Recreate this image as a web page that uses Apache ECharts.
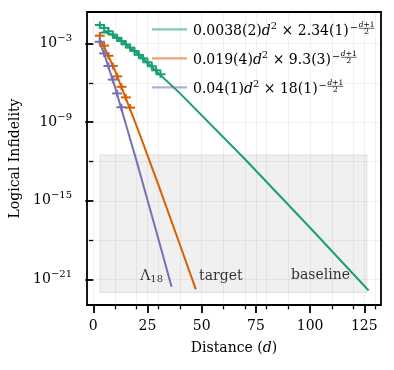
<!DOCTYPE html>
<html>
<head>
<meta charset="utf-8">
<script src="https://cdn.jsdelivr.net/npm/echarts@6/dist/echarts.min.js"></script>
<style>
  html, body { margin: 0; padding: 0; background: #fff; }
  #chart { width: 394px; height: 370px; }
</style>
</head>
<body>
<div id="chart"></div>
<script>
// measured points (distance d, logical infidelity)
const baselineD = [3, 5, 7, 9, 11, 13, 15, 17, 19, 21, 23, 25, 27, 29, 31];
const baselineVal = [2.7e-2, 1.6e-2, 8.9e-3, 5.0e-3, 2.8e-3, 1.6e-3, 8.9e-4, 5.0e-4, 2.8e-4, 1.4e-4, 7.6e-5, 3.8e-5, 1.9e-5, 9.3e-6, 4.6e-6];
const targetD = [3, 5, 7, 9, 11, 13, 15, 17];
const targetVal = [4.1e-3, 7.1e-4, 1.2e-4, 2.0e-5, 3.2e-6, 5.1e-7, 7.9e-8, 1.3e-8];
const lambdaD = [3, 5, 7, 9, 11, 13];
const lambdaVal = [1.4e-3, 1.8e-4, 2.0e-5, 1.8e-6, 1.6e-7, 1.4e-8];

// fitted curves
const baselineFitD = [3, 4, 5, 6, 8, 12, 20, 40, 70, 100, 127];
const baselineFitVal = [6.3e-3, 7.3e-3, 7.4e-3, 7.0e-3, 5.3e-3, 2.2e-3, 2.0e-4, 1.6e-7, 1.5e-12, 8.6e-18, 1.4e-22];
const targetFitD = [3, 5, 10, 20, 30, 40, 47.3];
const targetFitVal = [2.0e-3, 5.9e-4, 9.0e-6, 5.1e-10, 1.7e-14, 4.2e-19, 1.7e-22];
const lambdaFitD = [3, 5, 10, 20, 30, 36.1];
const lambdaFitVal = [1.1e-3, 1.7e-4, 5.0e-7, 1.05e-12, 1.25e-18, 2.7e-22];

// legend text pieces
const legendCoef = ['0.0038(2)', '0.019(4)', '0.04(1)'];
const legendBase = ['2.34(1)', '9.3(3)', '18(1)'];

// shaded band
const bandD = [3.1, 126.2];
const bandVal = [3.2e-12, 1.0e-22];

// text labels in the band
const noteText = ['{a|Λ}{b|18}', '{a|target}', '{a|baseline}'];
const noteD = [26.9, 58.8, 104.8];
const noteVal = [1.6e-21, 1.7e-21, 2.0e-21];

// ticks (exponents for y)
const yMajor = [-21, -15, -9, -3];
const yMinor = [-18, -12, -6];
const xMajor = [0, 25, 50, 75, 100, 125];
const xMinor = [10, 20, 30, 40, 60, 70, 80, 90, 110, 120, 130];

const FONT = '"DejaVu Serif", serif';
const FS = 14;
const SUP = 10;
const INK = '#000';
const GREEN = '#1b9e77', ORANGE = '#d95f02', PURPLE = '#7570b3';
const GRIDC = 'rgba(0,0,0,0.07)';

const pts = (d, v) => d.map((x, i) => [x, Math.log10(v[i])]);

const ctx = document.createElement('canvas').getContext('2d');
function tw(t, size, italic) {
  ctx.font = (italic ? 'italic ' : '') + size + 'px ' + FONT;
  return ctx.measureText(t).width;
}

function txt(x, y, t, size, italic) {
  return {
    type: 'text', x: x, y: y, z: 50,
    style: { text: t, fontSize: size, fontFamily: FONT, fontStyle: italic ? 'italic' : 'normal',
      fill: INK, align: 'left', verticalAlign: 'middle' }
  };
}

function legendRow(y, color, coef, base) {
  const els = [{ type: 'line', z: 50, shape: { x1: 152, y1: y, x2: 187, y2: y },
    style: { stroke: color, lineWidth: 2.2, opacity: 0.55 } }];
  let x = 193;
  const yc = y + 2.3;
  const put = (t, size, italic, dy) => { els.push(txt(x, yc + dy, t, size, italic)); x += tw(t, size, italic); };
  put(coef, FS, false, 0);
  put('d', FS, true, 0);
  put('2', SUP, false, -5);
  put(' × ' + base, FS, false, 0);
  x += 1;
  put('−', SUP, false, -3.5);
  x += 0.5;
  // stacked fraction (d+1)/2
  const fs = 7.5;
  const wd = tw('d', fs, true), wp = tw('+1', fs, false), w = wd + wp;
  const barY = yc - 3.3;
  els.push(txt(x, barY - 3.6, 'd', fs, true));
  els.push(txt(x + wd, barY - 3.6, '+1', fs, false));
  els.push({ type: 'line', z: 50, shape: { x1: x, y1: barY, x2: x + w, y2: barY }, style: { stroke: INK, lineWidth: 0.6 } });
  els.push(txt(x + w / 2 - tw('2', fs, false) / 2, barY + 3.8, '2', fs, false));
  return els;
}

function plusSeries(name, d, v, color) {
  return {
    type: 'custom', name: name, xAxisIndex: 0, yAxisIndex: 0, z: 5,
    data: pts(d, v),
    renderItem: function (params, api) {
      const p = api.coord([api.value(0), api.value(1)]);
      return {
        type: 'group', children: [
          { type: 'line', shape: { x1: p[0] - 5, y1: p[1], x2: p[0] + 5, y2: p[1] }, style: { stroke: color, lineWidth: 2 } },
          { type: 'line', shape: { x1: p[0], y1: p[1] - 3.5, x2: p[0], y2: p[1] + 3.5 }, style: { stroke: color, lineWidth: 2 } }
        ]
      };
    }
  };
}

function fitSeries(name, d, v, color) {
  return {
    type: 'line', name: name, xAxisIndex: 0, yAxisIndex: 0, z: 4,
    data: pts(d, v), showSymbol: false, symbol: 'none',
    lineStyle: { color: color, width: 2 }, itemStyle: { color: color }
  };
}

const chart = echarts.init(document.getElementById('chart'), null, { renderer: 'canvas' });

const axisCommon = {
  type: 'value',
  axisLine: { show: false },
  splitLine: { show: true, lineStyle: { color: GRIDC, width: 0.8 } },
  minorTick: { show: false },
  minorSplitLine: { show: false }
};

const option = {
  animation: false,
  backgroundColor: '#fff',
  grid: [
    { left: 87, top: 12, right: 13, bottom: 65, show: true, borderColor: '#000', borderWidth: 1.8,
      backgroundColor: 'transparent', outerBoundsMode: 'none' },
    { left: 87, top: 12, right: 13, bottom: 65, show: false, outerBoundsMode: 'none' }
  ],
  xAxis: [
    Object.assign({}, axisCommon, {
      gridIndex: 0, position: 'bottom', min: -2.9, max: 132.7,
      axisTick: { show: true, customValues: xMajor, length: 8, lineStyle: { color: '#000', width: 1.8 } },
      axisLabel: { show: true, customValues: xMajor, margin: 14, fontSize: FS, fontFamily: FONT, color: INK },
      name: 'Distance ({i|d})', nameLocation: 'middle', nameGap: 36,
      nameTextStyle: { fontSize: FS, fontFamily: FONT, color: INK,
        rich: { i: { fontSize: FS, fontFamily: FONT, fontStyle: 'italic', color: INK } } }
    }),
    Object.assign({}, axisCommon, {
      gridIndex: 1, position: 'bottom', min: -2.9, max: 132.7,
      axisTick: { show: true, customValues: xMinor, length: 4.3, lineStyle: { color: '#000', width: 1.3 } },
      axisLabel: { show: false }
    })
  ],
  yAxis: [
    Object.assign({}, axisCommon, {
      gridIndex: 0, position: 'left', min: -22.963, max: -0.578,
      axisTick: { show: true, customValues: yMajor, length: 8, lineStyle: { color: '#000', width: 1.8 } },
      axisLabel: { show: true, customValues: yMajor, margin: 15, fontSize: FS, fontFamily: FONT, color: INK,
        formatter: v => '10{s|−' + (-v) + '}',
        rich: { s: { fontSize: SUP, fontFamily: FONT, color: INK, padding: [0, 0, 10, 0] } } },
      name: 'Logical Infidelity', nameLocation: 'middle', nameGap: 60,
      nameTextStyle: { fontSize: FS, fontFamily: FONT, color: INK }
    }),
    Object.assign({}, axisCommon, {
      gridIndex: 1, position: 'left', min: -22.963, max: -0.578,
      axisTick: { show: true, customValues: yMinor, length: 4.3, lineStyle: { color: '#000', width: 1.3 } },
      axisLabel: { show: false }
    })
  ],
  series: [
    {
      type: 'line', name: 'band', xAxisIndex: 0, yAxisIndex: 0, data: [], z: 1,
      markArea: {
        silent: true,
        itemStyle: { color: 'rgba(120,120,120,0.11)', borderColor: 'rgba(120,120,120,0.18)', borderWidth: 1 },
        data: [[{ coord: [bandD[0], Math.log10(bandVal[0])] }, { coord: [bandD[1], Math.log10(bandVal[1])] }]]
      }
    },
    fitSeries('baseline', baselineFitD, baselineFitVal, GREEN),
    fitSeries('target', targetFitD, targetFitVal, ORANGE),
    fitSeries('lambda', lambdaFitD, lambdaFitVal, PURPLE),
    plusSeries('baselinePts', baselineD, baselineVal, GREEN),
    plusSeries('targetPts', targetD, targetVal, ORANGE),
    plusSeries('lambdaPts', lambdaD, lambdaVal, PURPLE),
    {
      type: 'scatter', name: 'notes', xAxisIndex: 0, yAxisIndex: 0, z: 6,
      symbolSize: 0,
      data: noteD.map((d, i) => ({ value: [d, Math.log10(noteVal[i])] })),
      label: {
        show: true, position: 'inside',
        formatter: p => noteText[p.dataIndex],
        rich: {
          a: { fontSize: FS, fontFamily: FONT, color: INK },
          b: { fontSize: SUP, fontFamily: FONT, color: INK, padding: [6, 0, 0, 0] }
        }
      }
    }
  ],
  graphic: [].concat(
    legendRow(29.3, GREEN, legendCoef[0], legendBase[0]),
    legendRow(58.3, ORANGE, legendCoef[1], legendBase[1]),
    legendRow(87.3, PURPLE, legendCoef[2], legendBase[2])
  )
};

chart.setOption(option);
</script>
</body>
</html>
